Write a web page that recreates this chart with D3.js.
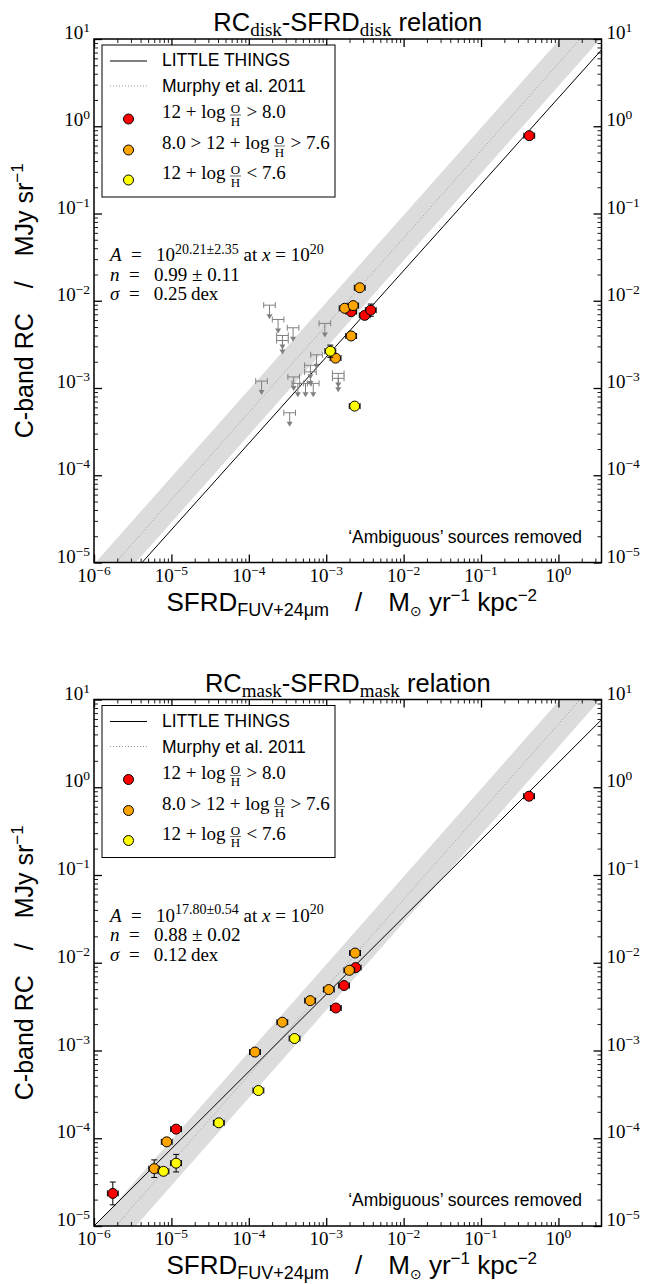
<!DOCTYPE html>
<html><head><meta charset="utf-8">
<script src="https://cdn.jsdelivr.net/npm/d3@7"></script>
<style>body{margin:0;background:#fff}svg{display:block}</style>
</head><body>
<svg id="c" width="651" height="1284"></svg>
<script>
// ---------------- DATA ----------------
const xDomain = [1e-6, 3.6];
const yDomain = [1e-5, 10];
const xTickExp = [-6, -5, -4, -3, -2, -1, 0];
const yTickExp = [-5, -4, -3, -2, -1, 0, 1];

// RC_disk - SFRD_disk
const diskRedX = [0.42, 2.1e-3, 3.14e-3, 3.76e-3];
const diskRedY = [0.78, 7.5e-3, 6.8e-3, 7.8e-3];
const diskRedXErr = [0.07, 0.07, 0.07, 0.07];
const diskRedYErr = [0.02, 0.02, 0.03, 0.07];
const diskOrangeX = [2.71e-3, 1.73e-3, 2.23e-3, 2.1e-3, 1.32e-3];
const diskOrangeY = [1.41e-2, 8.2e-3, 8.8e-3, 3.95e-3, 2.2e-3];
const diskOrangeXErr = [0.07, 0.07, 0.07, 0.07, 0.07];
const diskOrangeYErr = [0.02, 0.02, 0.02, 0.02, 0.03];
const diskYellowX = [1.13e-3, 2.33e-3];
const diskYellowY = [2.64e-3, 6.2e-4];
const diskYellowXErr = [0.07, 0.07];
const diskYellowYErr = [0.07, 0.02];
// upper limits (gray arrows)
const diskLimX = [1.85e-4, 2.39e-4, 3.73e-4, 2.72e-4, 2.72e-4, 9.6e-4, 7.5e-4, 6.25e-4, 6.25e-4, 3.8e-4, 1.46e-4, 1.43e-3, 1.43e-3, 4.3e-4, 5.4e-4, 6.8e-4, 3.37e-4];
const diskLimY = [8.9e-3, 6.1e-3, 4.9e-3, 4.0e-3, 3.5e-3, 5.5e-3, 2.4e-3, 1.82e-3, 1.53e-3, 1.34e-3, 1.2e-3, 1.47e-3, 1.29e-3, 1.13e-3, 1.13e-3, 1.13e-3, 5.2e-4];
const diskLimXErr = 0.075;

// RC_mask - SFRD_mask
const maskRedX = [0.417, 2.4e-3, 1.7e-3, 1.33e-3, 1.15e-5, 1.75e-6];
const maskRedY = [0.79, 8.8e-3, 5.5e-3, 3.05e-3, 1.27e-4, 2.35e-5];
const maskRedXErr = [0.07, 0.07, 0.07, 0.07, 0.07, 0.07];
const maskRedYErr = [0.02, 0.02, 0.02, 0.02, 0.03, 0.13];
const maskOrangeX = [2.36e-3, 1.99e-3, 1.08e-3, 6.2e-4, 2.71e-4, 1.2e-4, 8.7e-6, 6.0e-6];
const maskOrangeY = [1.29e-2, 8.2e-3, 4.95e-3, 3.7e-3, 2.1e-3, 9.6e-4, 9.1e-5, 4.5e-5];
const maskOrangeXErr = [0.07, 0.07, 0.07, 0.07, 0.07, 0.07, 0.07, 0.07];
const maskOrangeYErr = [0.02, 0.02, 0.02, 0.02, 0.02, 0.02, 0.03, 0.1];
const maskYellowX = [3.9e-4, 1.33e-4, 4.1e-5, 1.15e-5, 7.9e-6];
const maskYellowY = [1.37e-3, 3.5e-4, 1.5e-4, 5.2e-5, 4.2e-5];
const maskYellowXErr = [0.07, 0.07, 0.07, 0.07, 0.07];
const maskYellowYErr = [0.02, 0.02, 0.03, 0.1, 0.04];

// fits: log10(y) = norm + slope*log10(x)
const fitSlope = [0.99, 0.88];
const fitNorm = [0.325, 0.28];
const murphyNorm = 0.72;   // Murphy et al. 2011, linear
const murphyBand = 0.26;   // dex half-width of shaded band

const fitA = ["20.21±2.35", "17.80±0.54"];
const fitN = ["0.99 ± 0.11", "0.88 ± 0.02"];
const fitSigma = ["0.25", "0.12"];
const titleSub = ["disk", "mask"];
const legendLabels = ["LITTLE THINGS", "Murphy et al. 2011"];
const metalLabels = [["12\u2005+\u2005log", ">\u20058.0"], ["8.0\u2005>\u200512\u2005+\u2005log", ">\u20057.6"], ["12\u2005+\u2005log", "<\u20057.6"]];
const groupColors = ["#ff0000", "#ffa500", "#ffff00"];

// --------------- LAYOUT ---------------
const serif = "'Liberation Serif','DejaVu Serif',serif";
const sans = "'Liberation Sans',Arial,sans-serif";
const L = 94, R = 601.5;
const panelBox = [{top: 39, bottom: 562.5}, {top: 699.5, bottom: 1226}];

const svg = d3.select("#c");

function rich(sel, x, y, parts, anchor) {
  const t = sel.append("text").attr("x", x).attr("y", y).attr("text-anchor", anchor || "start");
  let cur = 0;
  parts.forEach(p => {
    const target = -(p.shift || 0);
    const ts = t.append("tspan").text(p.t)
      .attr("dy", target - cur)
      .attr("font-family", p.f || serif)
      .attr("font-size", p.s || 19)
      .attr("font-style", p.i ? "italic" : "normal");
    if (p.dx) ts.attr("dx", p.dx);
    cur = target;
  });
  return t;
}

const panels = [
  {
    groups: [
      {x: diskRedX, y: diskRedY, xe: diskRedXErr, ye: diskRedYErr},
      {x: diskOrangeX, y: diskOrangeY, xe: diskOrangeXErr, ye: diskOrangeYErr},
      {x: diskYellowX, y: diskYellowY, xe: diskYellowXErr, ye: diskYellowYErr}
    ],
    limX: diskLimX, limY: diskLimY
  },
  {
    groups: [
      {x: maskRedX, y: maskRedY, xe: maskRedXErr, ye: maskRedYErr},
      {x: maskOrangeX, y: maskOrangeY, xe: maskOrangeXErr, ye: maskOrangeYErr},
      {x: maskYellowX, y: maskYellowY, xe: maskYellowXErr, ye: maskYellowYErr}
    ],
    limX: [], limY: []
  }
];

panels.forEach((P, i) => {
  const box = panelBox[i];
  const x = d3.scaleLog().domain(xDomain).range([L, R]);
  const y = d3.scaleLog().domain(yDomain).range([box.bottom, box.top]);
  const g = svg.append("g");
  const cid = "clip" + i;
  svg.append("clipPath").attr("id", cid).append("rect")
    .attr("x", L).attr("y", box.top).attr("width", R - L).attr("height", box.bottom - box.top);
  const pg = g.append("g").attr("clip-path", `url(#${cid})`);

  const ext = [1e-9, 100];
  pg.append("path").datum(ext)
    .attr("d", d3.area().x(d => x(d))
      .y0(d => y(Math.pow(10, murphyNorm - murphyBand) * d))
      .y1(d => y(Math.pow(10, murphyNorm + murphyBand) * d)))
    .attr("fill", "#dcdcdc").attr("stroke", "none");
  pg.append("path").datum(ext)
    .attr("d", d3.line().x(d => x(d)).y(d => y(Math.pow(10, murphyNorm) * d)))
    .attr("fill", "none").attr("stroke", "#9a9a9a").attr("stroke-width", 1).attr("stroke-dasharray", "1,2");
  pg.append("path").datum(ext)
    .attr("d", d3.line().x(d => x(d)).y(d => y(Math.pow(10, fitNorm[i]) * Math.pow(d, fitSlope[i]))))
    .attr("fill", "none").attr("stroke", "#000").attr("stroke-width", 1);

  const lg = pg.append("g").attr("stroke", "#808080").attr("fill", "#808080").attr("stroke-width", 1);
  P.limX.forEach((lx, k) => {
    const ly = P.limY[k];
    const cx = x(lx), cy = y(ly);
    const x0 = x(lx / Math.pow(10, diskLimXErr)), x1 = x(lx * Math.pow(10, diskLimXErr));
    lg.append("line").attr("x1", x0).attr("x2", x1).attr("y1", cy).attr("y2", cy);
    lg.append("line").attr("x1", x0).attr("x2", x0).attr("y1", cy - 3).attr("y2", cy + 3);
    lg.append("line").attr("x1", x1).attr("x2", x1).attr("y1", cy - 3).attr("y2", cy + 3);
    lg.append("line").attr("x1", cx).attr("x2", cx).attr("y1", cy).attr("y2", cy + 10);
    lg.append("path").attr("stroke", "none")
      .attr("d", `M${cx - 3},${cy + 9}L${cx + 3},${cy + 9}L${cx},${cy + 14}Z`);
  });

  P.groups.forEach((G, gi) => {
    const eg = pg.append("g").attr("stroke", "#000").attr("stroke-width", 1);
    G.x.forEach((vx, k) => {
      const vy = G.y[k];
      const cx = x(vx), cy = y(vy);
      const x0 = x(vx / Math.pow(10, G.xe[k])), x1 = x(vx * Math.pow(10, G.xe[k]));
      const y0 = y(vy / Math.pow(10, G.ye[k])), y1 = y(vy * Math.pow(10, G.ye[k]));
      eg.append("line").attr("x1", x0).attr("x2", x1).attr("y1", cy).attr("y2", cy);
      eg.append("line").attr("x1", x0).attr("x2", x0).attr("y1", cy - 3).attr("y2", cy + 3);
      eg.append("line").attr("x1", x1).attr("x2", x1).attr("y1", cy - 3).attr("y2", cy + 3);
      eg.append("line").attr("x1", cx).attr("x2", cx).attr("y1", y0).attr("y2", y1);
      eg.append("line").attr("x1", cx - 3).attr("x2", cx + 3).attr("y1", y0).attr("y2", y0);
      eg.append("line").attr("x1", cx - 3).attr("x2", cx + 3).attr("y1", y1).attr("y2", y1);
    });
    pg.append("g").selectAll("circle").data(G.x).join("circle")
      .attr("cx", d => x(d)).attr("cy", (d, k) => y(G.y[k])).attr("r", 5)
      .attr("fill", groupColors[gi]).attr("stroke", "#000").attr("stroke-width", 1);
  });

  const majX = xTickExp.map(e => Math.pow(10, e));
  const majY = yTickExp.map(e => Math.pow(10, e));
  const minX = [], minY = [];
  for (let e = -7; e <= 1; e++) for (let k = 2; k <= 9; k++) {
    const v = k * Math.pow(10, e);
    if (v > xDomain[0] && v < xDomain[1]) minX.push(v);
    if (v > yDomain[0] && v < yDomain[1]) minY.push(v);
  }
  const ag = g.append("g");
  const addAxis = (gen, tx, ty, vals, size, sw) => {
    const a = ag.append("g").attr("transform", `translate(${tx},${ty})`)
      .call(gen.tickValues(vals).tickSize(-size).tickFormat(() => ""));
    a.select(".domain").remove();
    a.selectAll("line").attr("stroke", "#000").attr("stroke-width", sw);
    return a;
  };
  [[majX, 8, 1.3], [minX, 4, 0.9]].forEach(([v, s, w]) => {
    addAxis(d3.axisBottom(x), 0, box.bottom, v, s, w);
    addAxis(d3.axisTop(x), 0, box.top, v, s, w);
  });
  [[majY, 8, 1.3], [minY, 4, 0.9]].forEach(([v, s, w]) => {
    addAxis(d3.axisLeft(y), L, 0, v, s, w);
    addAxis(d3.axisRight(y), R, 0, v, s, w);
  });
  g.append("rect").attr("x", L).attr("y", box.top).attr("width", R - L).attr("height", box.bottom - box.top)
    .attr("fill", "none").attr("stroke", "#000").attr("stroke-width", 1.5);

  const expStr = e => (e < 0 ? "\u2212" + (-e) : "" + e);
  const tl = g.append("g").attr("fill", "#000");
  xTickExp.forEach(e => rich(tl, x(Math.pow(10, e)), box.bottom + 19,
    [{t: "10", s: 19}, {t: expStr(e), s: 13.5, shift: 7}], "middle"));
  yTickExp.forEach(e => {
    rich(tl, L - 4, y(Math.pow(10, e)), [{t: "10", s: 19}, {t: expStr(e), s: 13.5, shift: 7}], "end");
    rich(tl, R + 5, y(Math.pow(10, e)), [{t: "10", s: 19}, {t: expStr(e), s: 13.5, shift: 7}], "start");
  });

  const cxm = (L + R) / 2;
  rich(g, cxm, box.top - 8, [
    {t: "RC", f: sans, s: 25.5}, {t: titleSub[i], s: 19, shift: -5},
    {t: "-SFRD", f: sans, s: 25.5, shift: 0}, {t: titleSub[i], s: 19, shift: -5},
    {t: " relation", f: sans, s: 25.5, shift: 0}
  ], "middle");

  rich(g, cxm + 4, box.bottom + 48, [
    {t: "SFRD", f: sans, s: 26}, {t: "FUV+24\u03bcm", f: sans, s: 18, shift: -5},
    {t: "\u2003/\u2003M", f: sans, s: 26, shift: 0}, {t: "\u2299", f: "'DejaVu Sans',sans-serif", s: 14, shift: -5},
    {t: " yr", f: sans, s: 26, shift: 0}, {t: "\u22121", f: sans, s: 17, shift: 10},
    {t: " kpc", f: sans, s: 26, shift: 0}, {t: "\u22122", f: sans, s: 17, shift: 10}
  ], "middle");

  const yl = g.append("g").attr("transform", `translate(33,${(box.top + box.bottom) / 2}) rotate(-90)`);
  rich(yl, 0, 0, [
    {t: "C-band RC\u2003/\u2003MJy sr", f: sans, s: 25}, {t: "\u22121", f: sans, s: 17, shift: 10}
  ], "middle");

  const lgd = g.append("g");
  const lt = box.top;
  lgd.append("rect").attr("x", 102).attr("y", lt + 6).attr("width", 233).attr("height", 152)
    .attr("fill", "#fff").attr("stroke", "#000").attr("stroke-width", 1);
  lgd.append("line").attr("x1", 110).attr("x2", 147).attr("y1", lt + 22).attr("y2", lt + 22)
    .attr("stroke", "#000").attr("stroke-width", 1);
  lgd.append("line").attr("x1", 110).attr("x2", 147).attr("y1", lt + 47).attr("y2", lt + 47)
    .attr("stroke", "#9a9a9a").attr("stroke-width", 1).attr("stroke-dasharray", "1,2");
  lgd.append("text").attr("x", 162).attr("y", lt + 27).attr("font-family", sans).attr("font-size", 17.5).text(legendLabels[0]);
  lgd.append("text").attr("x", 162).attr("y", lt + 53).attr("font-family", sans).attr("font-size", 17.5).text(legendLabels[1]);
  const rowY = [lt + 79, lt + 110, lt + 140];
  metalLabels.forEach((ml, r) => {
    lgd.append("circle").attr("cx", 128.5).attr("cy", rowY[r] + 1).attr("r", 5)
      .attr("fill", groupColors[r]).attr("stroke", "#000").attr("stroke-width", 1);
    const t1 = lgd.append("text").attr("x", 162).attr("y", rowY[r]).attr("font-family", serif)
      .attr("font-size", 19).text(ml[0]);
    const w1 = t1.node().getComputedTextLength();
    const fx = 162 + w1 + 10;
    lgd.append("text").attr("x", fx).attr("y", rowY[r] - 5).attr("text-anchor", "middle")
      .attr("font-family", serif).attr("font-size", 13).text("O");
    lgd.append("line").attr("x1", fx - 5.5).attr("x2", fx + 5.5).attr("y1", rowY[r] - 3).attr("y2", rowY[r] - 3)
      .attr("stroke", "#000").attr("stroke-width", 0.6);
    lgd.append("text").attr("x", fx).attr("y", rowY[r] + 7.5).attr("text-anchor", "middle")
      .attr("font-family", serif).attr("font-size", 13).text("H");
    lgd.append("text").attr("x", fx + 11).attr("y", rowY[r]).attr("font-family", serif).attr("font-size", 19).text(ml[1]);
  });

  const ab = box.top + 222;
  rich(g, 110, ab, [
    {t: "A", i: true}, {t: "\u2002=\u2002 10"}, {t: fitA[i], s: 14, shift: 7.5},
    {t: " at ", shift: 0}, {t: "x", i: true}, {t: " = 10"}, {t: "20", s: 14, shift: 7.5}
  ]);
  rich(g, 110, ab + 19.5, [{t: "n", i: true}, {t: "\u2002=\u2002 " + fitN[i]}]);
  rich(g, 110, ab + 39, [{t: "\u03c3", i: true}, {t: "\u2002=\u2002 " + fitSigma[i] + "\u2009dex"}]);

  g.append("text").attr("x", 582).attr("y", box.bottom - 20).attr("text-anchor", "end")
    .attr("font-family", sans).attr("font-size", 17.5).text("\u2018Ambiguous\u2019 sources removed");
});
</script>
</body></html>
